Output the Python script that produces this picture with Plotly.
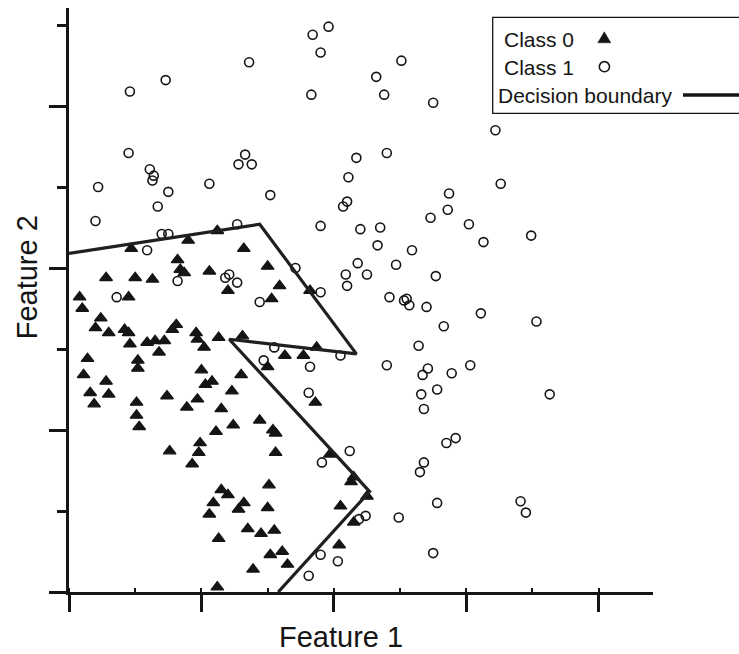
import plotly.graph_objects as go

# ---------------- data ----------------
class0_x = [0.47, 0.90, 1.12, 0.82, 0.28, 0.50, 0.63, 0.84, 0.87, 1.06,
            0.08, 0.10, 0.45, 0.24, 0.20, 0.30, 0.42, 0.45, 0.46, 0.59,
            0.65, 0.72, 0.68, 0.81, 0.78, 0.96, 0.97, 1.02, 1.13, 0.14,
            0.52, 0.52, 0.11, 0.28, 1.00, 1.08, 1.03, 0.16, 0.30, 0.74,
            0.97, 0.19, 0.51, 0.89, 1.15, 1.32, 1.50, 1.59, 1.53, 1.20,
            1.82, 1.31, 1.63, 1.77, 1.87, 1.50, 1.30, 1.23, 1.86, 0.51,
            0.53, 0.76, 1.11, 1.24, 0.99, 0.98, 0.93, 1.44, 1.54, 1.56,
            1.56, 1.15, 1.20, 1.09, 1.06, 1.32, 1.28, 1.51, 1.50, 1.35,
            1.45, 1.55, 1.13, 1.52, 1.39, 1.12, 1.97, 2.15, 2.13, 2.25,
            2.05, 2.15, 1.61, 1.65, 2.04]
class0_y = [2.12, 2.17, 2.23, 2.05, 1.94, 1.94, 1.93, 1.99, 1.97, 1.98,
            1.82, 1.75, 1.82, 1.69, 1.63, 1.60, 1.62, 1.60, 1.53, 1.54,
            1.55, 1.55, 1.48, 1.65, 1.62, 1.60, 1.56, 1.51, 1.57, 1.44,
            1.43, 1.38, 1.34, 1.30, 1.37, 1.30, 1.28, 1.23, 1.22, 1.21,
            1.19, 1.16, 1.17, 1.14, 1.13, 2.12, 2.01, 1.89, 1.81, 1.86,
            1.86, 1.58, 1.46, 1.46, 1.51, 1.39, 1.34, 1.24, 1.17, 1.09,
            1.02, 0.87, 0.99, 1.03, 0.92, 0.86, 0.79, 1.06, 1.00, 0.98,
            0.86, 0.63, 0.60, 0.55, 0.48, 0.55, 0.51, 0.66, 0.52, 0.39,
            0.36, 0.38, 0.33, 0.23, 0.14, 0.03, 0.85, 0.71, 0.68, 0.59,
            0.53, 0.43, 0.25, 0.17, 0.29]

class1_x = [1.84, 1.96, 1.90, 2.51, 2.32, 1.83, 2.38, 2.75, 3.22, 2.17,
            2.40, 2.11, 3.26, 2.87, 2.86, 2.73, 2.10, 2.07, 1.90, 2.20,
            2.35, 3.02, 3.13, 3.49, 2.33, 2.59, 2.18, 2.47, 2.09, 2.25,
            2.10, 2.77, 1.90, 1.71, 2.42, 2.53, 2.55, 2.57, 2.70, 3.11,
            2.83, 3.53, 2.64, 2.05, 1.82, 2.40, 3.03, 2.71, 2.67, 2.89,
            1.81, 2.78, 2.66, 3.63, 2.68, 2.92, 2.85, 2.12, 1.91, 2.68,
            2.65, 2.78, 3.41, 3.45, 2.49, 2.24, 2.19, 1.90, 2.03, 2.75,
            1.81, 1.36, 0.73, 0.46, 0.45, 0.61, 0.64, 0.63, 1.33, 1.28,
            1.38, 1.06, 0.22, 0.75, 1.52, 0.67, 0.20, 1.27, 0.70, 0.75,
            0.59, 1.21, 1.18, 1.27, 0.82, 0.36, 1.44, 1.55, 1.47]
class1_y = [3.44, 3.49, 3.33, 3.28, 3.18, 3.07, 3.07, 3.02, 2.85, 2.68,
            2.71, 2.56, 2.52, 2.46, 2.36, 2.31, 2.41, 2.38, 2.26, 2.24,
            2.25, 2.27, 2.16, 2.20, 2.14, 2.11, 2.03, 2.02, 1.96, 1.96,
            1.89, 1.95, 1.85, 2.00, 1.82, 1.80, 1.81, 1.77, 1.76, 1.72,
            1.64, 1.67, 1.52, 1.46, 1.39, 1.40, 1.40, 1.38, 1.34, 1.35,
            1.23, 1.25, 1.22, 1.22, 1.13, 0.95, 0.92, 0.87, 0.80, 0.80,
            0.74, 0.55, 0.56, 0.49, 0.46, 0.47, 0.45, 0.23, 0.19, 0.24,
            0.10, 3.27, 3.16, 3.09, 2.71, 2.61, 2.57, 2.54, 2.70, 2.64,
            2.64, 2.52, 2.50, 2.47, 2.45, 2.38, 2.29, 2.27, 2.21, 2.21,
            2.11, 1.96, 1.94, 1.91, 1.92, 1.82, 1.79, 1.51, 1.43]

boundary_x = [0.00, 1.44, 2.17, 1.21, 2.27, 1.58]
boundary_y = [2.09, 2.27, 1.47, 1.56, 0.62, 0.00]

x_range = [0, 4.41]
y_range = [0, 3.605]
x_major_ticks = [0, 1, 2, 3, 4]
y_major_ticks = [0, 1, 2, 3]
legend_labels = ["Class 0", "Class 1", "Decision boundary"]
x_title = "Feature 1"
y_title = "Feature 2"

# ---------------- layout helpers ----------------
W, H = 739, 654
ML, MR, MT, MB = 69, 86, 8, 62
PW, PH = W - ML - MR, H - MT - MB
INK = "#151515"
FONT = "Liberation Sans, Arial, sans-serif"


def px(xp):
    return (xp - ML) / PW


def py(yp):
    return (H - MB - yp) / PH


fig = go.Figure()

fig.add_trace(go.Scatter(
    x=class1_x, y=class1_y, mode="markers", name=legend_labels[1],
    marker=dict(symbol="circle-open", size=9, color=INK,
                line=dict(width=1.6, color=INK)),
    showlegend=False))

fig.add_trace(go.Scatter(
    x=class0_x, y=class0_y, mode="markers", name=legend_labels[0],
    marker=dict(symbol="triangle-up", size=11, color=INK,
                line=dict(width=1.3, color=INK)),
    showlegend=False))

fig.add_trace(go.Scatter(
    x=boundary_x, y=boundary_y, mode="lines", name=legend_labels[2],
    line=dict(color="#202020", width=3.2),
    showlegend=False))

axis_common = dict(showgrid=False, zeroline=False, showline=True,
                   linecolor=INK, linewidth=3, ticks="outside",
                   ticklen=17, tickwidth=3, tickcolor=INK,
                   showticklabels=False, automargin=False, fixedrange=True)

fig.update_xaxes(range=x_range, tickmode="array", tickvals=x_major_ticks,
                 minor=dict(ticks="inside", ticklen=4, tickwidth=2,
                            tickcolor=INK, dtick=0.5, tick0=0),
                 **axis_common)
fig.update_yaxes(range=y_range, tickmode="array", tickvals=y_major_ticks,
                 minor=dict(ticks="outside", ticklen=9, tickwidth=3,
                            tickcolor=INK, dtick=0.5, tick0=0),
                 **axis_common)

# legend box (drawn by hand: symbols sit to the right of the labels)
shapes = [
    dict(type="rect", xref="paper", yref="paper",
         x0=px(492.7), x1=px(760), y0=py(113.3), y1=py(17.3),
         line=dict(color=INK, width=1.3), fillcolor="white", layer="above"),
    dict(type="path", xref="paper", yref="paper",
         path=f"M {px(597.8)} {py(42.8)} L {px(610.8)} {py(42.8)} L {px(604.3)} {py(31.8)} Z",
         fillcolor=INK, line=dict(color=INK, width=0.5), layer="above"),
    dict(type="circle", xref="paper", yref="paper",
         x0=px(599.3), x1=px(609.5), y0=py(71.8), y1=py(61.6),
         line=dict(color=INK, width=1.6), layer="above"),
    dict(type="line", xref="paper", yref="paper",
         x0=px(683), x1=px(760), y0=py(95), y1=py(95),
         line=dict(color=INK, width=3.5), layer="above"),
]

annotations = [
    dict(text=legend_labels[0], xref="paper", yref="paper",
         x=px(501.5), y=py(39.5), xanchor="left", yanchor="middle",
         showarrow=False, font=dict(family=FONT, size=21, color=INK)),
    dict(text=legend_labels[1], xref="paper", yref="paper",
         x=px(501.5), y=py(67.5), xanchor="left", yanchor="middle",
         showarrow=False, font=dict(family=FONT, size=21, color=INK)),
    dict(text=legend_labels[2], xref="paper", yref="paper",
         x=px(495.5), y=py(95.5), xanchor="left", yanchor="middle",
         showarrow=False, font=dict(family=FONT, size=21, color=INK)),
    dict(text=x_title, xref="paper", yref="paper",
         x=px(341.3), y=py(637.3), xanchor="center", yanchor="middle",
         showarrow=False, font=dict(family=FONT, size=29, color=INK)),
    dict(text=y_title, xref="paper", yref="paper", textangle=-90,
         x=px(27), y=py(277.3), xanchor="center", yanchor="middle",
         showarrow=False, font=dict(family=FONT, size=29, color=INK)),
]

fig.update_layout(
    width=W, height=H,
    margin=dict(l=ML, r=MR, t=MT, b=MB, pad=0),
    paper_bgcolor="white", plot_bgcolor="white",
    showlegend=False,
    shapes=shapes, annotations=annotations,
    font=dict(family=FONT, color=INK),
)

fig.write_html("out.html", config={"displayModeBar": False})
